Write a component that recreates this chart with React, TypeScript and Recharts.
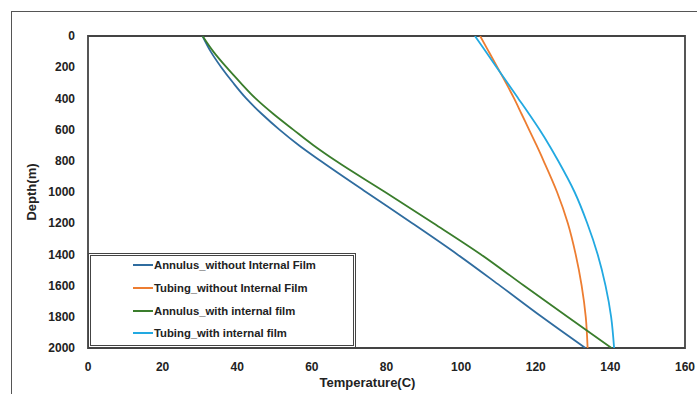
import React from 'react';
import { LineChart, Line, XAxis, YAxis, Legend, ReferenceArea } from 'recharts';

const depths = [0, 100, 200, 300, 400, 500, 600, 700, 800, 1000, 1200, 1400, 1600, 1800, 2000];
const annulusNoFilm = [30.7, 32.9, 35.7, 38.9, 42.4, 46.6, 51.3, 56.5, 62.3, 74.5, 86.9, 99.0, 110.4, 121.6, 133.3];
const tubingNoFilm = [105.1, 107.4, 109.7, 112.0, 114.2, 116.2, 118.2, 120.2, 122.1, 125.7, 128.6, 130.7, 132.3, 133.4, 133.9];
const annulusFilm = [30.7, 33.6, 37.1, 40.9, 44.9, 49.7, 55.0, 60.4, 66.4, 79.6, 92.6, 105.3, 116.8, 128.5, 140.3];
const tubingFilm = [103.7, 106.6, 109.5, 112.4, 115.3, 118.2, 121.0, 123.6, 126.0, 130.4, 133.8, 136.6, 138.7, 140.2, 141.0];

const seriesNames = [
  'Annulus_without Internal Film',
  'Tubing_without Internal Film',
  'Annulus_with internal film',
  'Tubing_with internal film',
];
const seriesColors = ['#2F6C9F', '#ED7D31', '#3A7D2C', '#22A9E1'];
const seriesTemps = [annulusNoFilm, tubingNoFilm, annulusFilm, tubingFilm];

const xTicks = [0, 20, 40, 60, 80, 100, 120, 140, 160];
const yTicks = [0, 200, 400, 600, 800, 1000, 1200, 1400, 1600, 1800, 2000];

const FONT = '"Liberation Sans", Arial, sans-serif';

const buildSeries = (temps: number[]) => depths.map((d, i) => ({ t: temps[i], d }));

const rowCenters = [9, 32, 55, 77];

const LegendBox = () => (
  <div
    style={{
      position: 'relative',
      width: 268,
      height: 95,
      boxSizing: 'border-box',
      border: '3px double #444',
      background: '#fff',
      fontFamily: FONT,
      fontWeight: 700,
      fontSize: 11.3,
      color: '#222',
    }}
  >
    {seriesNames.map((n, i) => (
      <div
        key={n}
        style={{
          position: 'absolute',
          left: 42,
          top: rowCenters[i] - 8,
          height: 16,
          display: 'flex',
          alignItems: 'center',
          whiteSpace: 'nowrap',
        }}
      >
        <span style={{ display: 'inline-block', width: 20, height: 0, borderTop: `2px solid ${seriesColors[i]}`, marginRight: 1 }} />
        <span>{n}</span>
      </div>
    ))}
  </div>
);

export default function App() {
  return (
    <div style={{ position: 'absolute', left: 0, top: 0, width: 697, height: 394, overflow: 'hidden', background: '#fff' }}>
      <div
        style={{
          position: 'absolute',
          left: 11,
          top: 11,
          width: 720,
          height: 420,
          border: '1.5px solid #555',
        }}
      />
      <div style={{ position: 'absolute', left: 0, top: 0 }}>
        <LineChart width={697} height={394} margin={{ top: 36, right: 12, bottom: 16, left: 0 }}>
          <XAxis
            type="number"
            dataKey="t"
            domain={[0, 160]}
            ticks={xTicks}
            interval={0}
            height={30}
            tickLine={false}
            tickSize={0}
            tickMargin={14}
            axisLine={false}
            allowDataOverflow
            tick={{ fill: '#222', fontSize: 12, fontWeight: 700, fontFamily: FONT }}
            label={{ value: 'Temperature(C)', position: 'bottom', offset: 0, dx: -19, fill: '#222', fontSize: 13, fontWeight: 700, fontFamily: FONT }}
          />
          <YAxis
            type="number"
            dataKey="d"
            domain={[0, 2000]}
            ticks={yTicks}
            interval={0}
            reversed
            width={88}
            tickLine={false}
            tickSize={0}
            tickMargin={13}
            axisLine={false}
            allowDataOverflow
            tick={{ fill: '#222', fontSize: 12, fontWeight: 700, fontFamily: FONT }}
            label={{ value: 'Depth(m)', angle: -90, position: 'insideLeft', offset: 31, style: { textAnchor: 'middle' }, fill: '#222', fontSize: 13, fontWeight: 700, fontFamily: FONT }}
          />
          <ReferenceArea x1={0} x2={160} y1={0} y2={2000} fill="none" stroke="#444" strokeWidth={1.8} ifOverflow="visible" />
          {seriesTemps.map((temps, i) => (
            <Line
              key={seriesNames[i]}
              name={seriesNames[i]}
              data={buildSeries(temps)}
              dataKey="d"
              type="monotoneY"
              stroke={seriesColors[i]}
              strokeWidth={1.8}
              dot={false}
              activeDot={false}
              isAnimationActive={false}
            />
          ))}
          <Legend
            layout="horizontal"
            verticalAlign="middle"
            align="center"
            wrapperStyle={{ position: 'absolute', left: 88, top: 253, width: 268, height: 95 }}
            content={() => <LegendBox />}
          />
        </LineChart>
      </div>
    </div>
  );
}
